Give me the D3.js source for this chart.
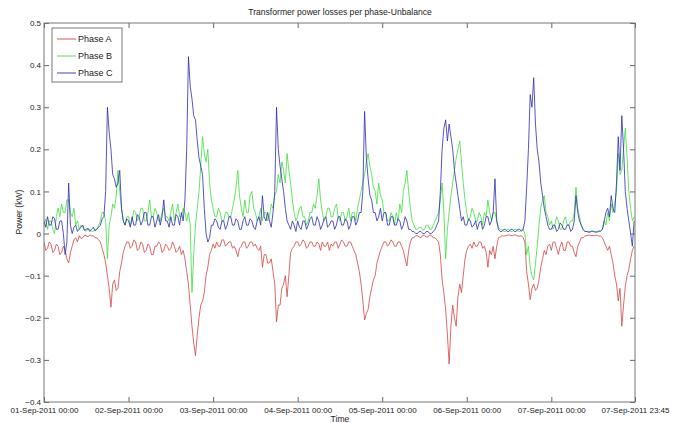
<!doctype html>
<html>
<head>
<meta charset="utf-8">
<title>Transformer power losses per phase</title>
<script src="https://d3js.org/d3.v7.min.js"></script>
<style>
  body { margin: 0; background: #fff; }
  text { font-family: "Liberation Sans", Arial, sans-serif; fill: #222; }
</style>
</head>
<body>
<script>
// half-hourly readings from 01-Sep-2011 00:00 (kW), one row per day
var phaseA = [
 -0.02,-0.04,-0.035,-0.02,-0.025,-0.045,-0.04,-0.025,-0.03,-0.05,-0.045,-0.03,-0.04,-0.06,-0.07,-0.045,-0.03,-0.015,-0.01,-0.02,-0.005,-0.012,-0.01,-0.004,-0.005,-0.008,-0.003,-0.006,-0.005,-0.01,-0.01,-0.015,-0.02,-0.035,-0.05,-0.07,-0.10,-0.13,-0.175,-0.12,-0.11,-0.135,-0.13,-0.09,-0.07,-0.045,-0.03,-0.02,
 -0.02,-0.035,-0.03,-0.015,-0.02,-0.04,-0.035,-0.02,-0.025,-0.045,-0.04,-0.025,-0.03,-0.05,-0.05,-0.03,-0.03,-0.02,-0.025,-0.045,-0.04,-0.025,-0.03,-0.04,-0.035,-0.02,-0.03,-0.045,-0.04,-0.03,-0.05,-0.04,-0.06,-0.09,-0.12,-0.17,-0.22,-0.26,-0.29,-0.24,-0.20,-0.17,-0.16,-0.14,-0.10,-0.08,-0.05,-0.04,
 -0.025,-0.035,-0.02,-0.03,-0.03,-0.015,-0.015,-0.03,-0.025,-0.02,-0.02,-0.035,-0.03,-0.04,-0.055,-0.035,-0.03,-0.02,-0.02,-0.035,-0.03,-0.02,-0.02,-0.03,-0.025,-0.035,-0.04,-0.03,-0.08,-0.05,-0.05,-0.07,-0.07,-0.06,-0.09,-0.12,-0.21,-0.17,-0.17,-0.13,-0.12,-0.10,-0.15,-0.10,-0.045,-0.035,-0.03,-0.02,
 -0.02,-0.03,-0.025,-0.015,-0.02,-0.035,-0.03,-0.02,-0.02,-0.03,-0.03,-0.02,-0.025,-0.04,-0.02,-0.03,-0.03,-0.02,-0.04,-0.025,-0.03,-0.02,-0.02,-0.035,-0.025,-0.015,-0.02,-0.03,-0.03,-0.02,-0.02,-0.03,-0.04,-0.05,-0.07,-0.09,-0.12,-0.16,-0.205,-0.19,-0.18,-0.15,-0.13,-0.11,-0.10,-0.07,-0.055,-0.04,
 -0.03,-0.02,-0.02,-0.03,-0.025,-0.015,-0.02,-0.03,-0.03,-0.02,-0.02,-0.03,-0.04,-0.06,-0.077,-0.04,-0.02,-0.01,-0.01,-0.005,-0.005,-0.008,-0.01,-0.004,-0.005,-0.008,-0.008,-0.003,-0.005,-0.01,-0.01,-0.015,-0.02,-0.05,-0.11,-0.14,-0.18,-0.24,-0.31,-0.22,-0.17,-0.20,-0.22,-0.15,-0.12,-0.14,-0.10,-0.06,
 -0.04,-0.03,-0.025,-0.035,-0.02,-0.03,-0.03,-0.02,-0.02,-0.035,-0.03,-0.045,-0.08,-0.04,-0.05,-0.03,-0.06,-0.03,-0.01,-0.008,-0.005,-0.006,-0.005,-0.004,-0.003,-0.005,-0.005,-0.003,-0.004,-0.006,-0.006,-0.005,-0.01,-0.02,-0.09,-0.12,-0.157,-0.13,-0.12,-0.135,-0.13,-0.11,-0.08,-0.06,-0.04,-0.05,-0.03,-0.025,
 -0.04,-0.02,-0.02,-0.035,-0.05,-0.03,-0.02,-0.04,-0.04,-0.02,-0.02,-0.03,-0.03,-0.045,-0.055,-0.03,-0.02,-0.01,-0.01,-0.006,-0.005,-0.004,-0.004,-0.005,-0.005,-0.004,-0.004,-0.006,-0.006,-0.01,-0.02,-0.03,-0.04,-0.03,-0.05,-0.07,-0.10,-0.12,-0.16,-0.13,-0.22,-0.17,-0.125,-0.10,-0.085,-0.06,-0.04,-0.03
];
var phaseB = [
 0.02,0.035,0.01,0.03,0.03,0.01,0.00,0.04,0.06,0.04,0.07,0.05,0.05,0.08,0.08,0.05,0.04,0.06,0.02,0.03,0.01,0.02,0.015,0.008,0.005,0.012,0.01,0.006,0.005,0.01,0.01,0.02,0.03,0.05,0.05,0.03,-0.06,0.02,0.04,0.07,0.06,0.09,0.15,0.10,0.06,0.03,0.02,0.04,
 0.04,0.02,0.03,0.055,0.05,0.03,0.04,0.06,0.06,0.03,0.03,0.05,0.08,0.04,0.04,0.06,0.05,0.03,0.03,0.05,0.06,0.04,0.04,0.03,0.05,0.07,0.03,0.05,0.07,0.04,0.04,0.06,0.05,0.03,0.05,0.02,-0.14,-0.05,0.02,0.06,0.10,0.16,0.23,0.19,0.17,0.20,0.12,0.08,
 0.06,0.04,0.04,0.06,0.05,0.03,0.03,0.05,0.05,0.04,0.04,0.06,0.08,0.11,0.15,0.09,0.06,0.04,0.08,0.05,0.05,0.09,0.10,0.06,0.05,0.03,0.04,0.06,0.03,0.05,0.05,0.03,0.04,0.07,0.06,0.09,0.10,0.14,0.12,0.17,0.15,0.12,0.19,0.15,0.12,0.08,0.05,0.03,
 0.04,0.06,0.065,0.04,0.04,0.02,0.03,0.05,0.05,0.07,0.06,0.09,0.13,0.08,0.05,0.03,0.04,0.06,0.06,0.04,0.04,0.06,0.07,0.04,0.03,0.05,0.05,0.03,0.04,0.06,0.03,0.05,0.05,0.03,0.06,0.08,0.10,0.12,0.14,0.17,0.19,0.16,0.14,0.11,0.10,0.07,0.12,0.09,
 0.08,0.05,0.05,0.03,0.03,0.05,0.04,0.02,0.05,0.03,0.07,0.05,0.10,0.12,0.15,0.10,0.06,0.03,0.02,0.01,0.01,0.015,0.015,0.008,0.01,0.02,0.02,0.01,0.01,0.02,0.03,0.04,0.05,0.08,0.12,0.05,-0.06,0.01,0.05,0.09,0.12,0.15,0.18,0.20,0.22,0.17,0.12,0.08,
 0.05,0.03,0.04,0.06,0.05,0.03,0.03,0.05,0.04,0.02,0.05,0.04,0.08,0.05,0.03,0.05,0.05,0.03,0.015,0.01,0.01,0.005,0.005,0.01,0.01,0.005,0.005,0.01,0.01,0.006,0.005,0.01,0.01,0.00,-0.05,-0.03,-0.08,-0.10,-0.11,-0.07,-0.03,0.02,0.06,0.08,0.09,0.05,0.04,0.02,
 0.03,0.01,0.02,0.04,0.03,0.01,0.01,0.03,0.04,0.02,0.02,0.03,0.03,0.05,0.11,0.06,0.04,0.02,0.01,0.005,0.005,0.003,0.003,0.005,0.004,0.003,0.003,0.005,0.005,0.01,0.03,0.02,0.05,0.03,0.07,0.05,0.07,0.10,0.19,0.14,0.15,0.20,0.25,0.18,0.10,0.06,0.03,0.04
];
var phaseC = [
 0.03,0.015,0.04,0.02,0.02,0.04,0.035,0.01,0.01,0.03,0.03,0.00,-0.05,-0.02,0.12,0.02,0.00,0.015,0.02,0.005,0.01,0.015,0.02,0.008,0.01,0.012,0.005,0.01,0.015,0.006,0.01,0.015,0.02,0.035,0.04,0.10,0.30,0.24,0.20,0.14,0.13,0.11,0.12,0.15,0.06,0.03,0.02,0.035,
 0.03,0.015,0.04,0.02,0.02,0.045,0.04,0.02,0.03,0.05,0.05,0.02,0.02,0.04,0.04,0.015,0.03,0.045,0.02,0.04,0.08,0.03,0.03,0.015,0.04,0.02,0.02,0.045,0.04,0.02,0.05,0.03,0.08,0.20,0.42,0.35,0.32,0.28,0.27,0.22,0.18,0.16,0.14,0.06,0.00,-0.02,-0.01,0.02,
 0.02,0.035,0.03,0.015,0.01,0.03,0.03,0.01,0.02,0.04,0.04,0.02,0.02,0.035,0.03,0.01,0.01,0.03,0.04,0.02,0.02,0.035,0.03,0.015,0.01,0.03,0.04,0.02,0.09,0.04,0.03,0.05,0.03,0.015,0.05,0.10,0.30,0.20,0.16,0.13,0.10,0.06,0.03,0.02,0.01,0.03,0.02,0.005,
 0.03,0.015,0.01,0.03,0.03,0.01,0.02,0.035,0.04,0.02,0.02,0.04,0.03,0.01,0.02,0.035,0.04,0.015,0.02,0.03,0.03,0.01,0.02,0.04,0.04,0.02,0.02,0.035,0.03,0.01,0.02,0.04,0.04,0.02,0.03,0.05,0.05,0.10,0.29,0.18,0.13,0.09,0.08,0.05,0.05,0.03,0.04,0.06,
 0.03,0.05,0.05,0.02,0.02,0.04,0.04,0.02,0.02,0.035,0.03,0.01,0.02,0.04,0.03,0.01,0.01,0.005,0.005,0.00,0.00,0.005,0.005,0.00,0.00,0.005,0.005,0.00,0.00,0.005,0.01,0.02,0.03,0.10,0.20,0.25,0.27,0.22,0.26,0.23,0.20,0.15,0.12,0.09,0.06,0.03,0.04,0.02,
 0.02,0.035,0.03,0.015,0.02,0.03,0.01,0.025,0.03,0.01,0.02,0.04,0.04,0.02,0.03,0.05,0.13,0.03,0.01,0.005,0.005,0.01,0.01,0.005,0.005,0.01,0.01,0.005,0.005,0.01,0.01,0.005,0.01,0.03,0.11,0.20,0.33,0.30,0.37,0.26,0.20,0.17,0.12,0.09,0.06,0.04,0.02,0.01,
 0.01,0.02,0.02,0.005,0.01,0.025,0.02,0.01,0.01,0.02,0.02,0.005,0.01,0.03,0.09,0.05,0.03,0.02,0.01,0.005,0.005,0.004,0.004,0.006,0.005,0.004,0.004,0.006,0.006,0.01,0.03,0.05,0.06,0.04,0.09,0.06,0.05,0.12,0.23,0.15,0.28,0.20,0.10,0.06,0.03,0.00,-0.03,0.03
];
var seriesNames = ["Phase A", "Phase B", "Phase C"];
var seriesColors = ["#d24444", "#3ede3e", "#2c2cb2"];
var xTickLabels = ["01-Sep-2011 00:00", "02-Sep-2011 00:00", "03-Sep-2011 00:00", "04-Sep-2011 00:00",
                   "05-Sep-2011 00:00", "06-Sep-2011 00:00", "07-Sep-2011 00:00", "07-Sep-2011 23:45"];
var yTicks = [-0.4, -0.3, -0.2, -0.1, 0, 0.1, 0.2, 0.3, 0.4, 0.5];

var parseT = d3.timeParse("%d-%b-%Y %H:%M");
var tickDates = xTickLabels.map(parseT);
var start = tickDates[0], end = tickDates[tickDates.length - 1];

var width = 680, height = 423;
var margin = {top: 23, right: 45, bottom: 21, left: 44};

var svg = d3.select("body").append("svg")
    .attr("width", width)
    .attr("height", height);

var x = d3.scaleTime().domain([start, end]).range([margin.left, width - margin.right]);
var y = d3.scaleLinear().domain([-0.4, 0.5]).range([height - margin.bottom, margin.top]);

// clip lines to the axes box
svg.append("clipPath").attr("id", "box")
  .append("rect")
    .attr("x", margin.left).attr("y", margin.top)
    .attr("width", x.range()[1] - margin.left)
    .attr("height", y.range()[0] - margin.top);

// samples every 30 minutes
var line = d3.line()
    .x(function(d, i) { return x(d3.timeMinute.offset(start, i * 30)); })
    .y(function(d) { return y(d); });

var plot = svg.append("g").attr("clip-path", "url(#box)");
[phaseA, phaseB, phaseC].forEach(function(s, k) {
  plot.append("path")
    .datum(s)
    .attr("d", line)
    .attr("fill", "none")
    .attr("stroke", seriesColors[k])
    .attr("stroke-width", 0.8)
    .attr("stroke-linejoin", "round");
});

// axes, MATLAB style: ticks pointing inward on all four sides
var fmt = function(d, i) { return xTickLabels[i]; };
var xBottom = svg.append("g")
    .attr("transform", "translate(0," + y.range()[0] + ")")
    .call(d3.axisBottom(x).tickValues(tickDates).tickFormat(fmt).tickSizeInner(-5).tickSizeOuter(0).tickPadding(5));
var xTop = svg.append("g")
    .attr("transform", "translate(0," + margin.top + ")")
    .call(d3.axisTop(x).tickValues(tickDates).tickFormat("").tickSizeInner(-5).tickSizeOuter(0));
var yLeft = svg.append("g")
    .attr("transform", "translate(" + margin.left + ",0)")
    .call(d3.axisLeft(y).tickValues(yTicks).tickFormat(function(d) { return d3.format("")(+d.toFixed(1)); }).tickSizeInner(-5).tickSizeOuter(0).tickPadding(3));
var yRight = svg.append("g")
    .attr("transform", "translate(" + x.range()[1] + ",0)")
    .call(d3.axisRight(y).tickValues(yTicks).tickFormat("").tickSizeInner(-5).tickSizeOuter(0));

[xBottom, xTop, yLeft, yRight].forEach(function(g) {
  g.select(".domain").remove();
  g.selectAll(".tick line").attr("stroke", "#666");
  g.selectAll("text").style("font-family", "Liberation Sans, Arial, sans-serif").style("font-size", "8px").attr("fill", "#222");
});

svg.append("rect")
    .attr("x", margin.left).attr("y", margin.top)
    .attr("width", x.range()[1] - margin.left)
    .attr("height", y.range()[0] - margin.top)
    .attr("fill", "none")
    .attr("stroke", "#777")
    .attr("stroke-width", 1);

// titles
svg.append("text")
    .attr("x", 340).attr("y", 15)
    .attr("text-anchor", "middle")
    .style("font-size", "8.6px")
    .text("Transformer power losses per phase-Unbalance");
svg.append("text")
    .attr("x", 340).attr("y", 422)
    .attr("text-anchor", "middle")
    .style("font-size", "8.6px")
    .text("Time");
svg.append("text")
    .attr("transform", "translate(22,212) rotate(-90)")
    .attr("text-anchor", "middle")
    .style("font-size", "8.6px")
    .text("Power (kW)");

// legend
var legend = svg.append("g");
legend.append("rect")
    .attr("x", 52).attr("y", 28)
    .attr("width", 70).attr("height", 54)
    .attr("fill", "#fff")
    .attr("stroke", "#777");
seriesNames.forEach(function(name, k) {
  var ly = 39 + k * 17;
  legend.append("line")
    .attr("x1", 57).attr("x2", 76)
    .attr("y1", ly).attr("y2", ly)
    .attr("stroke", seriesColors[k])
    .attr("stroke-width", 0.9);
  legend.append("text")
    .attr("x", 78).attr("y", ly + 3)
    .style("font-size", "9px")
    .text(name);
});
</script>
</body>
</html>
